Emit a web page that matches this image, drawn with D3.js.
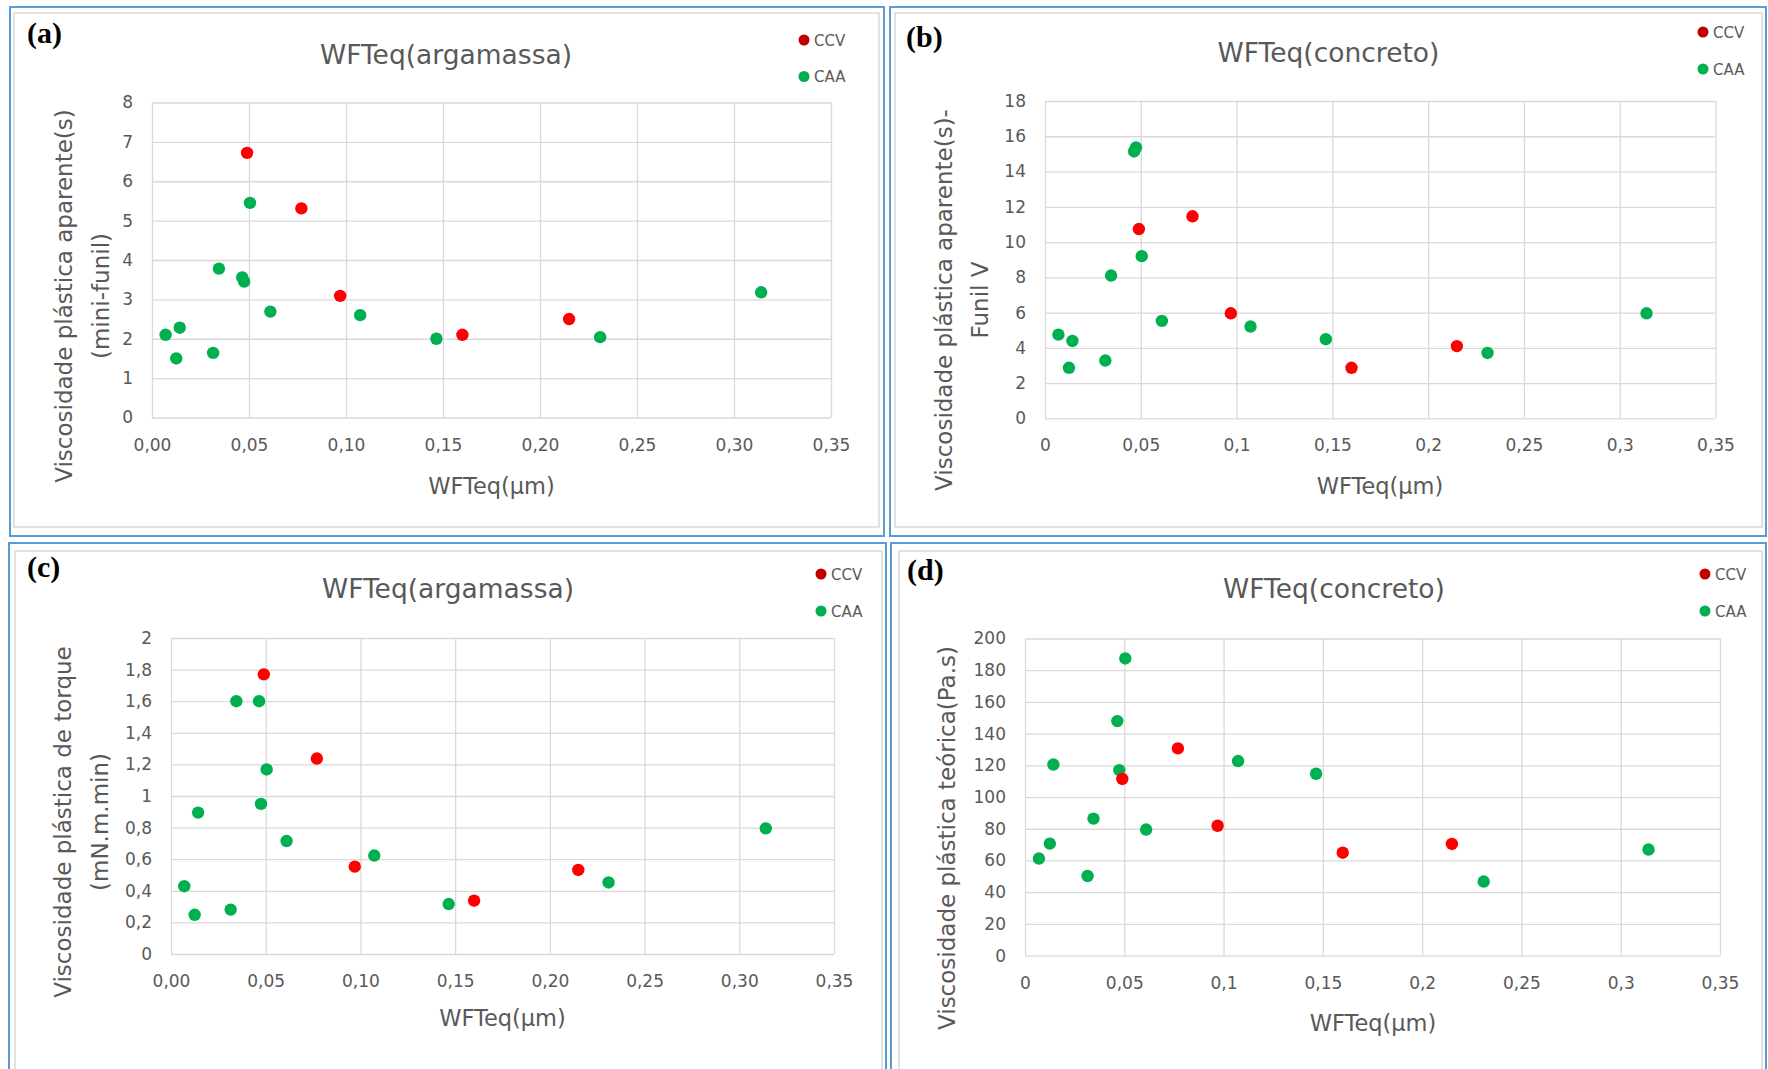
<!DOCTYPE html>
<html><head><meta charset="utf-8">
<script src="https://cdn.jsdelivr.net/npm/d3@7"></script>
<style>
body{margin:0;background:#fff}
svg{display:block}
text{font-family:"DejaVu Sans",sans-serif;fill:#595959}
</style>
</head><body>
<svg id="c" width="1768" height="1069"></svg>
<script>
// ---- data ----
const wfteqCCV = [0.049, 0.077, 0.097, 0.160, 0.215];
const wfteqCAA = [0.007, 0.0125, 0.0143, 0.0315, 0.0345, 0.0465, 0.0475, 0.0505, 0.061, 0.1073, 0.1466, 0.231, 0.314];

const miniFunilCCV = [6.72, 5.31, 3.09, 2.10, 2.50];
const miniFunilCAA = [2.10, 1.50, 2.28, 1.64, 3.78, 3.56, 3.45, 5.45, 2.69, 2.60, 2.00, 2.04, 3.18];

const funilVCCV = [10.74, 11.46, 5.96, 2.87, 4.10];
const funilVCAA = [4.75, 2.87, 4.39, 3.28, 8.1, 15.14, 15.37, 9.2, 5.53, 5.21, 4.49, 3.71, 5.96];

const torqueCCV = [1.77, 1.237, 0.553, 0.338, 0.532];
const torqueCAA = [0.429, 0.248, 0.895, 0.281, 1.60, 1.60, 0.95, 1.168, 0.715, 0.623, 0.316, 0.453, 0.795];

const teoricaCCV = [111.4, 130.7, 81.9, 64.9, 70.4];
const teoricaCAA = [61.2, 70.6, 120.5, 50.2, 86.4, 147.9, 117, 187.4, 79.5, 122.7, 114.7, 46.7, 66.9];

const xTickValues = [0, 0.05, 0.10, 0.15, 0.20, 0.25, 0.30, 0.35];
const xLabelsFixed = ["0,00","0,05","0,10","0,15","0,20","0,25","0,30","0,35"];
const xLabelsGeneral = ["0","0,05","0,1","0,15","0,2","0,25","0,3","0,35"];

const yTicksA = [0,1,2,3,4,5,6,7,8];
const yLabelsA = ["0","1","2","3","4","5","6","7","8"];
const yTicksB = [0,2,4,6,8,10,12,14,16,18];
const yLabelsB = ["0","2","4","6","8","10","12","14","16","18"];
const yTicksC = [0,0.2,0.4,0.6,0.8,1,1.2,1.4,1.6,1.8,2];
const yLabelsC = ["0","0,2","0,4","0,6","0,8","1","1,2","1,4","1,6","1,8","2"];
const yTicksD = [0,20,40,60,80,100,120,140,160,180,200];
const yLabelsD = ["0","20","40","60","80","100","120","140","160","180","200"];

const seriesNames = ["CCV", "CAA"];
const pointColors = {CCV: "#ff0000", CAA: "#00b050"};
const legendColors = {CCV: "#c00000", CAA: "#00b050"};

// ---- layout ----
const panels = [
  {label:"(a)", title:"WFTeq(argamassa)", ccv:miniFunilCCV, caa:miniFunilCAA,
   yTicks:yTicksA, yLabels:yLabelsA, xLabels:xLabelsFixed,
   blue:[10,7,884,536], gray:[14,13,879,527],
   plot:{l:152,r:831,t:102.5,b:417.5},
   titlePos:[446,63.5], labelPos:[27,43], legend:{x:804,y:[40,76.5]},
   xTitle:[491.5,494], yTitle:[["Viscosidade plástica aparente(s)",71.5],["(mini-funil)",109]], yTitleC:296},
  {label:"(b)", title:"WFTeq(concreto)", ccv:funilVCCV, caa:funilVCAA,
   yTicks:yTicksB, yLabels:yLabelsB, xLabels:xLabelsGeneral,
   blue:[890,7,1766,536], gray:[895,13,1762,527],
   plot:{l:1045,r:1715.5,t:101,b:418.4},
   titlePos:[1328.5,61.6], labelPos:[906,46.5], legend:{x:1703,y:[32,69]},
   xTitle:[1380,494], yTitle:[["Viscosidade plástica aparente(s)-",952],["Funil V",988]], yTitleC:300},
  {label:"(c)", title:"WFTeq(argamassa)", ccv:torqueCCV, caa:torqueCAA,
   yTicks:yTicksC, yLabels:yLabelsC, xLabels:xLabelsFixed,
   blue:[9,543,886,1085], gray:[15,551,882,1085],
   plot:{l:171,r:834,t:638,b:954},
   titlePos:[448,598], labelPos:[27,577], legend:{x:821,y:[574,611]},
   xTitle:[502.5,1026], yTitle:[["Viscosidade plástica de torque",71],["(mN.m.min)",108]], yTitleC:822},
  {label:"(d)", title:"WFTeq(concreto)", ccv:teoricaCCV, caa:teoricaCAA,
   yTicks:yTicksD, yLabels:yLabelsD, xLabels:xLabelsGeneral,
   blue:[891,543,1766,1085], gray:[899,551,1762,1085],
   plot:{l:1025,r:1720,t:638.5,b:955.6},
   titlePos:[1334,598], labelPos:[907,580], legend:{x:1705,y:[574,611]},
   xTitle:[1373,1031], yTitle:[["Viscosidade plástica teórica(Pa.s)",955]], yTitleC:838}
];

const svg = d3.select("#c");
svg.append("rect").attr("width",1768).attr("height",1069).attr("fill","#fff");

panels.forEach(p => {
  const g = svg.append("g");
  // frames
  const [bx0,by0,bx1,by1] = p.blue;
  g.append("rect").attr("x",bx0).attr("y",by0).attr("width",bx1-bx0).attr("height",by1-by0)
    .attr("fill","none").attr("stroke","#5b9bd5").attr("stroke-width",2);
  const [gx0,gy0,gx1,gy1] = p.gray;
  g.append("rect").attr("x",gx0).attr("y",gy0).attr("width",gx1-gx0).attr("height",gy1-gy0)
    .attr("fill","none").attr("stroke","#d9d9d9").attr("stroke-width",1.5);

  const x = d3.scaleLinear().domain([0,0.35]).range([p.plot.l,p.plot.r]);
  const y = d3.scaleLinear().domain([0,p.yTicks[p.yTicks.length-1]]).range([p.plot.b,p.plot.t]);
  const W = p.plot.r - p.plot.l, H = p.plot.b - p.plot.t;

  // x axis with vertical gridlines
  const xa = g.append("g").attr("transform",`translate(0,${p.plot.b})`)
    .call(d3.axisBottom(x).tickValues(xTickValues)
      .tickFormat((d,i)=>p.xLabels[i]).tickSize(-H).tickPadding(21));
  xa.select(".domain").remove();
  xa.selectAll("line").attr("stroke","#d9d9d9").attr("stroke-width",1.3);
  xa.selectAll("text").attr("font-size",17).attr("font-family","DejaVu Sans").attr("fill","#595959");

  // y axis with horizontal gridlines
  const ya = g.append("g").attr("transform",`translate(${p.plot.l},0)`)
    .call(d3.axisLeft(y).tickValues(p.yTicks)
      .tickFormat((d,i)=>p.yLabels[i]).tickSize(-W).tickPadding(19));
  ya.select(".domain").remove();
  ya.selectAll("line").attr("stroke","#d9d9d9").attr("stroke-width",1.3);
  ya.selectAll("text").attr("font-size",17).attr("font-family","DejaVu Sans").attr("fill","#595959");

  // points
  const pts = [];
  wfteqCAA.forEach((v,i)=>pts.push({s:"CAA",x:v,y:p.caa[i]}));
  wfteqCCV.forEach((v,i)=>pts.push({s:"CCV",x:v,y:p.ccv[i]}));
  g.append("g").selectAll("circle").data(pts).join("circle")
    .attr("cx",d=>x(d.x)).attr("cy",d=>y(d.y)).attr("r",6.2)
    .attr("fill",d=>pointColors[d.s]);

  // titles
  g.append("text").attr("x",p.titlePos[0]).attr("y",p.titlePos[1])
    .attr("text-anchor","middle").attr("font-size",26.5).text(p.title);
  g.append("text").attr("x",p.labelPos[0]).attr("y",p.labelPos[1])
    .attr("font-size",30).attr("font-weight","bold")
    .style("font-family","'Liberation Serif',serif").style("fill","#000").text(p.label);
  g.append("text").attr("x",p.xTitle[0]).attr("y",p.xTitle[1])
    .attr("text-anchor","middle").attr("font-size",22.5).text("WFTeq(µm)");
  p.yTitle.forEach(([t,bx])=>{
    g.append("text").attr("transform",`translate(${bx},${p.yTitleC}) rotate(-90)`)
      .attr("text-anchor","middle").attr("font-size",23).text(t);
  });

  // legend
  seriesNames.forEach((s,i)=>{
    g.append("circle").attr("cx",p.legend.x).attr("cy",p.legend.y[i]).attr("r",5.5)
      .attr("fill",legendColors[s]);
    g.append("text").attr("x",p.legend.x+10).attr("y",p.legend.y[i]+5.5)
      .attr("font-size",15).text(s);
  });
});
</script>
</body></html>
